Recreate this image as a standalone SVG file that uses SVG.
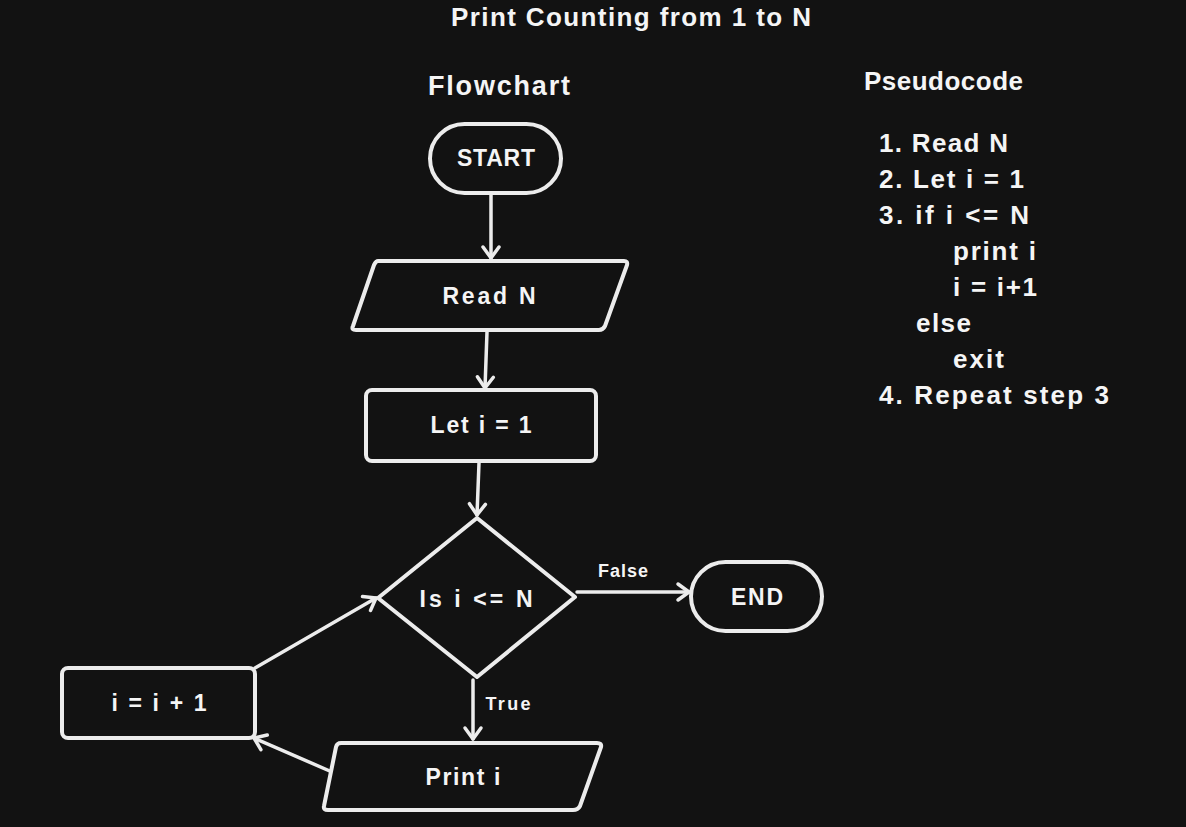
<svg xmlns="http://www.w3.org/2000/svg" width="1186" height="827" viewBox="0 0 1186 827">
<style>
.bg{fill:#121212}
.shape{fill:#121212;stroke:#ececec;stroke-width:4;stroke-linejoin:round}
.conn{fill:none;stroke:#ececec;stroke-width:3.5;stroke-linecap:round}
text{fill:#f5f5f5;font-family:"Liberation Sans",Arial,sans-serif;font-weight:bold}
.lbl{font-size:23px;text-anchor:middle;dominant-baseline:central}
.small{font-size:18px;text-anchor:middle}
.code{font-size:26px}
</style>
<defs>
<marker id="arr" markerUnits="userSpaceOnUse" markerWidth="24" markerHeight="24" refX="14" refY="12" orient="auto">
<path d="M3,4 L14,12 L3,20" fill="none" stroke="#ececec" stroke-width="3.5" stroke-linecap="round" stroke-linejoin="round"/>
</marker>
</defs>
<rect class="bg" x="0" y="0" width="1186" height="827"/>
<text x="451" y="26" font-size="26" textLength="360">Print Counting from 1 to N</text>
<text x="428" y="95" font-size="27" textLength="142">Flowchart</text>
<text x="864" y="90" font-size="26" textLength="159">Pseudocode</text>
<g id="pseudocode" class="code">
<text x="879" y="152" textLength="129">1. Read N</text>
<text x="879" y="188" textLength="145">2. Let i = 1</text>
<text x="879" y="224" textLength="150">3. if i &lt;= N</text>
<text x="953" y="260" textLength="83">print i</text>
<text x="953" y="296" textLength="84">i = i+1</text>
<text x="916" y="332" textLength="55">else</text>
<text x="953" y="368" textLength="51">exit</text>
<text x="879" y="404" textLength="230">4. Repeat step 3</text>
</g>
<g id="connectors">
<path class="conn" d="M491,195 L491,258" marker-end="url(#arr)"/>
<path class="conn" d="M487,332 L485,388" marker-end="url(#arr)"/>
<path class="conn" d="M479,463 L477,515" marker-end="url(#arr)"/>
<path class="conn" d="M577,592 L689,592" marker-end="url(#arr)"/>
<path class="conn" d="M473,680 L473,739" marker-end="url(#arr)"/>
<path class="conn" d="M332,772 L254,738" marker-end="url(#arr)"/>
<path class="conn" d="M255,668 L376,598" marker-end="url(#arr)"/>
<text class="small" x="623" y="577" textLength="50">False</text>
<text class="small" x="508" y="710" textLength="45">True</text>
</g>
<g id="start">
<rect class="shape" x="430" y="124" width="131" height="69" rx="34.5"/>
<text class="lbl" x="496" y="158" textLength="78">START</text>
</g>
<g id="read">
<path class="shape" d="M378,261 L624,261 Q628,261 627,265 L605,326 Q603,330 599,330 L356,330 Q351,330 353,326 L374,265 Q376,261 378,261 Z"/>
<text class="lbl" x="489" y="296" textLength="93">Read N</text>
</g>
<g id="leti">
<rect class="shape" x="366" y="390" width="230" height="71" rx="6"/>
<text class="lbl" x="481" y="425" textLength="101">Let i = 1</text>
</g>
<g id="decision">
<path class="shape" d="M477,518 L575,597 L477,677 L378,598 Z"/>
<text class="lbl" x="476" y="599" textLength="113">Is i &lt;= N</text>
</g>
<g id="end">
<rect class="shape" x="691" y="562" width="131" height="69" rx="34.5"/>
<text class="lbl" x="757" y="597" textLength="52">END</text>
</g>
<g id="printi">
<path class="shape" d="M341,743 L597,743 Q602,743 601,747 L580,806 Q578,810 573,810 L328,810 Q323,810 324,806 L336,747 Q337,743 341,743 Z"/>
<text class="lbl" x="463" y="777" textLength="75">Print i</text>
</g>
<g id="incr">
<rect class="shape" x="62" y="668" width="193" height="70" rx="6"/>
<text class="lbl" x="159" y="703" textLength="95">i = i + 1</text>
</g>
</svg>
